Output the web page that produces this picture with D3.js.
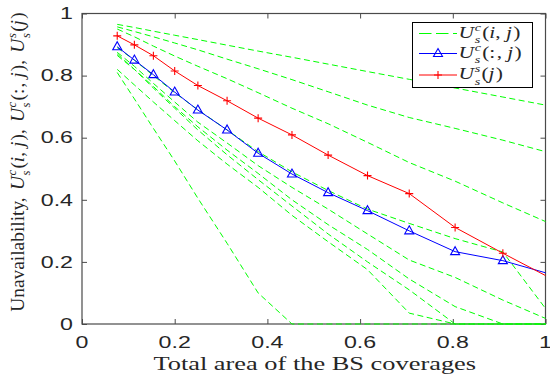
<!DOCTYPE html>
<html>
<head>
<meta charset="utf-8">
<script src="https://cdn.jsdelivr.net/npm/d3@7"></script>
<style>
  html, body { margin: 0; padding: 0; background: #fff; }
  svg { display: block; }
</style>
</head>
<body>
<svg id="chart" width="550" height="377"></svg>
<script>
// Coverage fractions at which the unavailability was evaluated
const coverage = [0.076, 0.113, 0.154, 0.200, 0.250, 0.313, 0.380, 0.453, 0.531, 0.616, 0.706, 0.805, 0.908, 1.0];

// Per-cell unavailability U_s^c(i, j), one array per cell i
const cell1 = [0.965, 0.955, 0.943, 0.930, 0.916, 0.898, 0.879, 0.859, 0.837, 0.813, 0.788, 0.760, 0.731, 0.705];
const cell2 = [0.957, 0.942, 0.925, 0.905, 0.883, 0.853, 0.822, 0.787, 0.748, 0.705, 0.665, 0.630, 0.592, 0.555];
const cell3 = [0.950, 0.925, 0.895, 0.863, 0.830, 0.790, 0.745, 0.695, 0.645, 0.585, 0.520, 0.460, 0.390, 0.330];
const cell4 = [0.890, 0.850, 0.800, 0.745, 0.690, 0.625, 0.555, 0.490, 0.430, 0.370, 0.324, 0.275, 0.232, 0.050];
const cell5 = [0.875, 0.830, 0.775, 0.715, 0.650, 0.583, 0.510, 0.440, 0.370, 0.290, 0.206, 0.150, 0.077, 0.018];
const cell6 = [0.865, 0.820, 0.765, 0.700, 0.635, 0.560, 0.485, 0.400, 0.320, 0.240, 0.145, 0.056, 0.000, 0.000];
const cell7 = [0.870, 0.820, 0.760, 0.695, 0.625, 0.545, 0.465, 0.380, 0.290, 0.200, 0.110, 0.000, 0.000, 0.000];
const cell8 = [0.820, 0.770, 0.715, 0.655, 0.590, 0.515, 0.440, 0.350, 0.265, 0.175, 0.035, 0.000, 0.000, 0.000];
const cell9 = [0.810, 0.725, 0.630, 0.525, 0.405, 0.260, 0.100, 0.000, 0.000, 0.000, 0.000, 0.000, 0.000, 0.000];
const cellSeries = [cell1, cell2, cell3, cell4, cell5, cell6, cell7, cell8, cell9];

// Average over cells U_s^c(:, j) and system unavailability U_s^s(j)
const avgCells = [0.893, 0.850, 0.803, 0.747, 0.689, 0.625, 0.550, 0.483, 0.423, 0.365, 0.300, 0.233, 0.204, 0.165];
const system = [0.928, 0.899, 0.864, 0.815, 0.768, 0.719, 0.663, 0.609, 0.544, 0.478, 0.420, 0.311, 0.228, 0.156];

const xTicks = [0, 0.2, 0.4, 0.6, 0.8, 1];
const yTicks = [0, 0.2, 0.4, 0.6, 0.8, 1];
const xTickLabels = ["0", "0.2", "0.4", "0.6", "0.8", "1"];
const yTickLabels = ["0", "0.2", "0.4", "0.6", "0.8", "1"];
const xTitle = "Total area of the BS coverages";
const yTitleWord = "Unavailability,";

const plotLeft = 82, plotRight = 545.5, plotTop = 13.5, plotBottom = 324;
const stretch = 1.45;             // horizontal glyph stretch of tick labels and title
const axisColor = "#4a4a4a";
const textColor = "#262626";
const green = "#00ff00", blue = "#0000ff", red = "#ff0000";
const sans = "'Liberation Sans', Arial, sans-serif";
const serif = "'Liberation Serif', 'Times New Roman', serif";

const svg = d3.select("#chart");
const x = d3.scaleLinear().domain([0, 1]).range([plotLeft, plotRight]);
const y = d3.scaleLinear().domain([0, 1]).range([plotBottom, plotTop]);

// Frame
svg.append("rect")
  .attr("x", plotLeft).attr("y", plotTop)
  .attr("width", plotRight - plotLeft).attr("height", plotBottom - plotTop)
  .attr("fill", "#fff").attr("stroke", axisColor).attr("stroke-width", 1.2);

function tickLinesOnly(g) {
  g.select(".domain").remove();
  g.selectAll(".tick text").remove();
  g.selectAll(".tick line").attr("stroke", axisColor).attr("stroke-width", 1);
}

// Inward ticks on all four sides
svg.append("g").attr("transform", `translate(0,${plotBottom})`)
  .call(d3.axisBottom(x).tickValues(xTicks).tickSize(-5)).call(tickLinesOnly);
svg.append("g").attr("transform", `translate(0,${plotTop})`)
  .call(d3.axisTop(x).tickValues(xTicks).tickSize(-5)).call(tickLinesOnly);
svg.append("g").attr("transform", `translate(${plotLeft},0)`)
  .call(d3.axisLeft(y).tickValues(yTicks).tickSize(-5)).call(tickLinesOnly);
svg.append("g").attr("transform", `translate(${plotRight},0)`)
  .call(d3.axisRight(y).tickValues(yTicks).tickSize(-5)).call(tickLinesOnly);

// Tick labels
svg.append("g").selectAll("g").data(xTicks).join("g")
  .attr("transform", d => `translate(${x(d)},348) scale(${stretch},1)`)
  .append("text").attr("text-anchor", "middle")
  .attr("font-family", sans).attr("font-size", 16).attr("fill", textColor)
  .text((d, i) => xTickLabels[i]);
svg.append("g").selectAll("g").data(yTicks).join("g")
  .attr("transform", d => `translate(${plotLeft - 9},${y(d) + 5.7}) scale(${stretch},1)`)
  .append("text").attr("text-anchor", "end")
  .attr("font-family", sans).attr("font-size", 16).attr("fill", textColor)
  .text((d, i) => yTickLabels[i]);

// Data
const line = d3.line().x((d, i) => x(coverage[i])).y(d => y(d));

svg.append("g").selectAll("path").data(cellSeries).join("path")
  .attr("d", line)
  .attr("fill", "none").attr("stroke", green).attr("stroke-width", 1)
  .attr("stroke-dasharray", "6,3.5");

const triangle = "M0,-5L4.5,3L-4.5,3Z";
const plus = "M-4,0H4M0,-4V4";

svg.append("path").attr("d", line(avgCells))
  .attr("fill", "none").attr("stroke", blue).attr("stroke-width", 1);
// markers on the interior samples; the last sample lies on the right frame
svg.append("g").selectAll("path").data(avgCells.slice(0, -1)).join("path")
  .attr("transform", (d, i) => `translate(${x(coverage[i])},${y(d)})`)
  .attr("d", triangle).attr("fill", "none").attr("stroke", blue).attr("stroke-width", 1.1);

svg.append("path").attr("d", line(system))
  .attr("fill", "none").attr("stroke", red).attr("stroke-width", 1);
svg.append("g").selectAll("path").data(system.slice(0, -1)).join("path")
  .attr("transform", (d, i) => `translate(${x(coverage[i])},${y(d)})`)
  .attr("d", plus).attr("fill", "none").attr("stroke", red).attr("stroke-width", 1.1);

// Math-style label builder: sequential runs of text with stacked sub/superscripts
function mathRun(g, segs, size) {
  let cx = 0;
  segs.forEach(s => {
    if (s.sup !== undefined || s.sub !== undefined) {
      let w = 0;
      if (s.sup) {
        const t = g.append("text").attr("x", cx + 0.5).attr("y", -size * 0.4)
          .attr("font-size", size * 0.66).attr("font-style", "italic")
          .attr("font-family", serif).attr("fill", textColor).text(s.sup);
        w = Math.max(w, t.node().getComputedTextLength());
      }
      if (s.sub) {
        const t = g.append("text").attr("x", cx + 0.5).attr("y", size * 0.36)
          .attr("font-size", size * 0.66).attr("font-style", "italic")
          .attr("font-family", serif).attr("fill", textColor).text(s.sub);
        w = Math.max(w, t.node().getComputedTextLength());
      }
      cx += w + 1.5;
      return;
    }
    const t = g.append("text").attr("x", cx).attr("y", 0)
      .attr("font-size", size).attr("font-style", s.i ? "italic" : "normal")
      .attr("font-family", serif).attr("fill", textColor).text(s.t);
    cx += t.node().getComputedTextLength() + (s.after || 0);
  });
  return cx;
}
const U = (sup, sub) => [{ t: "U", i: true }, { sup, sub }];
const args = inner => [{ t: "(" }].concat(inner).concat([{ t: ")" }]);
const ijArgs = args([{ t: "i", i: true }, { t: ",", after: 4 }, { t: "j", i: true, after: 1 }]);
const colArgs = args([{ t: ":", after: 1 }, { t: ",", after: 4 }, { t: "j", i: true, after: 1 }]);
const jArgs = args([{ t: "j", i: true, after: 1 }]);

// X title
{
  const g = svg.append("g").attr("transform", `translate(${(plotLeft + plotRight) / 2 + 1},370) scale(${stretch},1)`);
  const inner = g.append("g");
  const w = mathRun(inner, [{ t: xTitle }], 18.2);
  inner.attr("transform", `translate(${-w / 2},0)`);
}

// Y title (rotated)
{
  const g = svg.append("g").attr("transform", `translate(23.5,162) scale(1.13,1.21) rotate(-90)`);
  const inner = g.append("g");
  const segs = [{ t: yTitleWord, after: 6 }]
    .concat(U("c", "s")).concat(ijArgs).concat([{ t: ",", after: 6 }])
    .concat(U("c", "s")).concat(colArgs).concat([{ t: ",", after: 6 }])
    .concat(U("s", "s")).concat(jArgs);
  const w = mathRun(inner, segs, 16);
  inner.attr("transform", `translate(${-w / 2},0)`);
}

// Legend
const legendItems = [
  { segs: U("c", "s").concat(ijArgs), color: green, dash: "12.5,4.5", marker: null },
  { segs: U("c", "s").concat(colArgs), color: blue, dash: null, marker: triangle },
  { segs: U("s", "s").concat(jArgs), color: red, dash: null, marker: plus }
];
const lg = svg.append("g");
lg.append("rect").attr("x", 412.5).attr("y", 22.5).attr("width", 120).attr("height", 65)
  .attr("fill", "#fff").attr("stroke", "#000").attr("stroke-width", 1);
const rowY = [33.5, 53.5, 75];
legendItems.forEach((it, k) => {
  const ry = rowY[k];
  lg.append("line").attr("x1", 419).attr("x2", 457).attr("y1", ry).attr("y2", ry)
    .attr("stroke", it.color).attr("stroke-width", 1)
    .attr("stroke-dasharray", it.dash);
  if (it.marker) {
    lg.append("path").attr("d", it.marker).attr("transform", `translate(438,${ry})`)
      .attr("fill", "none").attr("stroke", it.color).attr("stroke-width", 1.1);
  }
  const g = lg.append("g").attr("transform", `translate(458.5,${ry + 4}) scale(1.3,1)`);
  mathRun(g, it.segs, 16.5);
});
</script>
</body>
</html>
